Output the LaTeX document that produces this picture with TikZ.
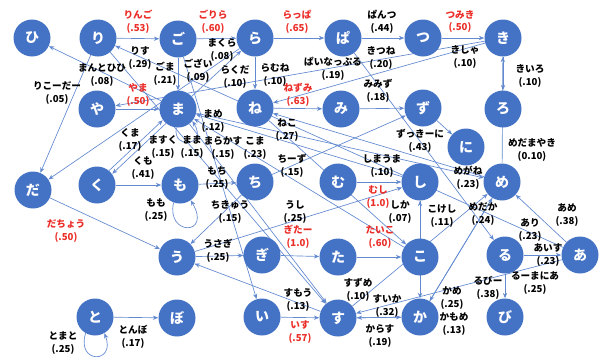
\documentclass[tikz,border=0pt]{standalone}
\usepackage{fontspec}
\setmainfont{Noto Sans CJK JP}
\usetikzlibrary{arrows.meta,backgrounds}
\definecolor{nodeblue}{RGB}{68,114,196}
\definecolor{edgeblue}{RGB}{98,137,208}
\definecolor{labred}{RGB}{235,45,40}
\begin{document}
\begin{tikzpicture}[x=0.75pt,y=-0.75pt,
  wn/.style={circle,fill=nodeblue,minimum size=27.75pt,inner sep=0pt,text=white,font=\fontsize{10.5pt}{12pt}\selectfont\bfseries},
  ed/.style={draw=edgeblue,line width=0.5pt,-{Stealth[length=4pt,width=3.2pt]}},
  lb/.style={align=center,font=\fontsize{7.2pt}{9.6pt}\selectfont\bfseries,inner sep=0pt},
  lr/.style={lb,text=labred}]
\useasboundingbox (0,0) rectangle (603,361);
% nodes
\node[wn] (hi) at (32,38) {ひ};
\node[wn] (ri) at (98,38) {り};
\node[wn] (go) at (178,39) {ご};
\node[wn] (ra) at (255,38) {ら};
\node[wn] (pa) at (343,38) {ぱ};
\node[wn] (tu) at (423,38) {つ};
\node[wn] (ki) at (503,38) {き};
\node[wn] (ya) at (97,109) {や};
\node[wn] (ma) at (178,109) {ま};
\node[wn] (ne) at (255,108) {ね};
\node[wn] (mi) at (341,109) {み};
\node[wn] (zu) at (423,108) {ず};
\node[wn] (ro) at (503,109) {ろ};
\node[wn] (ni) at (466,147) {に};
\node[wn] (da) at (33,190) {だ};
\node[wn] (ku) at (97,185) {く};
\node[wn] (mo) at (180,185) {も};
\node[wn] (ti) at (255,182) {ち};
\node[wn] (mu) at (338,182) {む};
\node[wn] (si) at (420,182) {し};
\node[wn] (me) at (502,182) {め};
\node[wn] (u) at (177,257) {う};
\node[wn] (gi) at (262,255) {ぎ};
\node[wn] (ta) at (338,257) {た};
\node[wn] (ko) at (420,257) {こ};
\node[wn] (ru) at (505,255) {る};
\node[wn] (a) at (580,255) {あ};
\node[wn] (to) at (95,317) {と};
\node[wn] (bo) at (177,318) {ぼ};
\node[wn] (i) at (262,317) {い};
\node[wn] (su) at (338,318) {す};
\node[wn] (ka) at (420,317) {か};
\node[wn] (bi) at (505,317) {び};
% edges
\begin{pgfonlayer}{background}
\draw[ed] (ri) -- (go);
\draw[ed] (go) -- (ra);
\draw[ed] (ra) -- (pa);
\draw[ed] (pa) -- (tu);
\draw[ed] (tu) -- (ki);
\draw[ed] (ki) -- (ro);
\draw[ed] (me) -- (ki);
\draw[ed] (ki) -- (ya);
\draw[ed] (ki) -- (ne);
\draw[ed] (pa) -- (ru);
\draw[ed] (ra) -- (ne);
\draw[ed] (ra) -- (da);
\draw[ed] (ma) -- (ra);
\draw[ed] (go) -- (ma);
\draw[ed] (go) -- (i);
\draw[ed] (ri) -- (su);
\draw[ed] (ma) -- (hi);
\draw[ed] (ri) -- (da);
\draw[ed] (ya) -- (ma);
\draw[ed] (ne) -- (mi);
\draw[ed] (mi) -- (zu);
\draw[ed] (zu) -- (ni);
\draw[ed] (ma) -- (me);
\draw[ed] (ne) -- (ko);
\draw[ed,transform canvas={shift={(-1.2pt,1.2pt)}}] (ku) -- (ma);
\draw[ed,transform canvas={shift={(1.2pt,-1.2pt)}}] (ma) -- (ku);
\draw[ed] (ma.-95) .. controls (172,150) and (208,146) .. (ma.-40);
\draw[ed] (ma) -- (su);
\draw[ed] (ko) -- (ma);
\draw[ed] (ku) -- (mo);
\draw[ed] (mo.-110) .. controls (166,236) and (212,236) .. (mo.-55);
\draw[ed] (mo) -- (ti);
\draw[ed] (ti) -- (zu);
\draw[ed] (ti) -- (u);
\draw[ed] (u) -- (si);
\draw[ed] (u) -- (gi);
\draw[ed] (gi) -- (ta);
\draw[ed] (ta) -- (ko);
\draw[ed] (mu) -- (si);
\draw[ed] (si) -- (ma);
\draw[ed] (me) -- (ne);
\draw[ed] (si) -- (ka);
\draw[ed] (ko) -- (si);
\draw[ed] (me) -- (ka);
\draw[ed] (a) -- (me);
\draw[ed] (a) -- (ri);
\draw[ed] (a) -- (su);
\draw[ed] (ru) -- (a);
\draw[ed] (ru) -- (bi);
\draw[ed] (su) -- (me);
\draw[ed] (su) -- (ka);
\draw[ed] (ka) -- (su);
\draw[ed] (ka) -- (me);
\draw[ed] (i) -- (su);
\draw[ed] (su) -- (u);
\draw[ed] (da) -- (u);
\draw[ed] (to.-120) .. controls (76,364) and (116,364) .. (to.-60);
\draw[ed] (to) -- (bo);
\end{pgfonlayer}
% labels
\node[lr] (l1) at (138,21.5) {りんご\\(.53)};
\node[lr] (l2) at (213,21.5) {ごりら\\(.60)};
\node[lr] (l3) at (297,21.5) {らっぱ\\(.65)};
\node[lb] (l4) at (382,21.5) {ぱんつ\\(.44)};
\node[lr] (l5) at (460,21.5) {つみき\\(.50)};
\node[lb] (l6) at (140,58) {りす\\(.29)};
\node[lb] (l7) at (102,75) {まんとひひ\\(.08)};
\node[lb] (l8) at (57,93) {りこーだー\\(.05)};
\node[lb] (l9) at (165,74) {ごま\\(.21)};
\node[lr] (l10) at (138,95) {やま\\(.50)};
\node[lb] (l11) at (222,50) {まくら\\(.08)};
\node[lb] (l12) at (198,71) {ござい\\(.09)};
\node[lb] (l13) at (235,77) {らくだ\\(.10)};
\node[lb] (l14) at (275,75) {らむね\\(.10)};
\node[lb] (l15) at (333,69) {ぱいなっぷる\\(.19)};
\node[lr] (l16) at (298,95) {ねずみ\\(.63)};
\node[lb] (l17) at (381,58) {きつね\\(.20)};
\node[lb] (l18) at (465,57) {きしゃ\\(.10)};
\node[lb] (l19) at (530,76) {きいろ\\(.10)};
\node[lb] (l20) at (378,91) {みみず\\(.18)};
\node[lb] (l21) at (213,121) {まめ\\(.12)};
\node[lb] (l22) at (130,140) {くま\\(.17)};
\node[lb] (l23) at (163,147) {ますく\\(.15)};
\node[lb] (l24) at (192,147) {まま\\(.15)};
\node[lb] (l25) at (223,148) {まらかす\\(.15)};
\node[lb] (l26) at (255,148) {こま\\(.23)};
\node[lb] (l27) at (287,130) {ねこ\\(.27)};
\node[lb] (l28) at (420,141) {ずっきーに\\(.43)};
\node[lb] (l29) at (532,150) {めだまやき\\(0.10)};
\node[lb] (l30) at (382,166) {しまうま\\(.10)};
\node[lb] (l31) at (143,168) {くも\\(.41)};
\node[lb] (l32) at (292,166) {ちーず\\(.15)};
\node[lb] (l33) at (217,178) {もち\\(.25)};
\node[lb] (l34) at (468,178) {めがね\\(.23)};
\node[lr] (l35) at (378,197) {むし\\(1.0)};
\node[lb] (l36) at (156,210) {もも\\(.25)};
\node[lb] (l37) at (230,212) {ちきゅう\\(.15)};
\node[lb] (l38) at (295,212) {うし\\(.25)};
\node[lb] (l39) at (400,212) {しか\\(.07)};
\node[lb] (l40) at (442,216) {こけし\\(.11)};
\node[lb] (l41) at (483,214) {めだか\\(.24)};
\node[lb] (l42) at (567,215) {あめ\\(.38)};
\node[lr] (l43) at (66,231) {だちょう\\(.50)};
\node[lb] (l44) at (530,230) {あり\\(.23)};
\node[lr] (l45) at (298,237) {ぎたー\\(1.0)};
\node[lr] (l46) at (380,237) {たいこ\\(.60)};
\node[lb] (l47) at (218,251) {うさぎ\\(.25)};
\node[lb] (l48) at (548,255) {あいす\\(.23)};
\node[lb] (l49) at (535,283) {るーまにあ\\(.25)};
\node[lb] (l50) at (488,288) {るびー\\(.38)};
\node[lb] (l51) at (358,290) {すずめ\\(.10)};
\node[lb] (l52) at (298,300) {すもう\\(.13)};
\node[lb] (l53) at (452,298) {かめ\\(.25)};
\node[lb] (l54) at (387,306) {すいか\\(.32)};
\node[lb] (l55) at (454,324) {かもめ\\(.13)};
\node[lr] (l56) at (300,332) {いす\\(.57)};
\node[lb] (l57) at (380,336) {からす\\(.19)};
\node[lb] (l58) at (63,343) {とまと\\(.25)};
\node[lb] (l59) at (133,337) {とんぼ\\(.17)};
\end{tikzpicture}
\end{document}
